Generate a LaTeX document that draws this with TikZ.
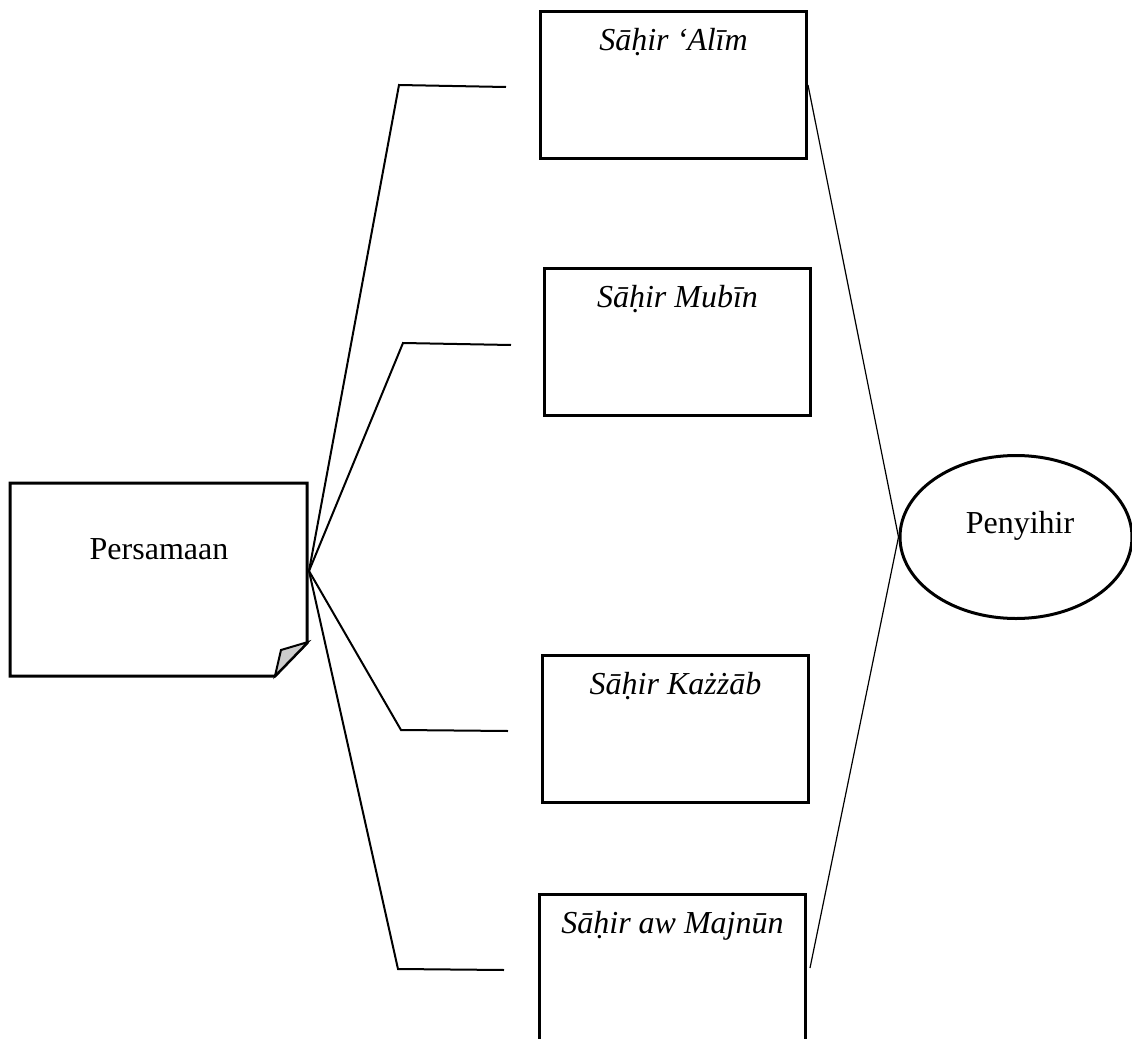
\documentclass[tikz,border=0pt]{standalone}
\usepackage{fontspec}
\setmainfont{Liberation Serif}
\usetikzlibrary{shapes.geometric,calc}
\begin{document}
\begin{tikzpicture}[x=0.5pt,y=-0.5pt,
  box/.style={draw,line width=1.5pt,rectangle,minimum width=133pt,minimum height=73.5pt,anchor=north west,inner sep=0pt},
  lbl/.style={font=\fontsize{16}{19}\selectfont\itshape,anchor=base},
  conn/.style={line width=1pt},
  thin/.style={line width=0.6pt}]
\useasboundingbox (0,0) rectangle (1132,1039);
\clip (0,0) rectangle (1132,1039);
% Persamaan note shape
\draw[line width=1.5pt,line join=miter] (10,483) -- (307,483) -- (307,643) -- (275,676) -- (10,676) -- cycle;
\draw[line width=1pt,fill=black!20] (275,676) -- (281,650) -- (308,642) -- cycle;
\node[font=\fontsize{16}{19}\selectfont,anchor=base] (p) at (159,559) {Persamaan};
\coordinate (o) at (309,571);
% boxes
\node[box] (b1) at (539,10) {};
\node[box] (b2) at (543,267) {};
\node[box] (b3) at (541,654) {};
\node[box] (b4) at (538,893) {};
\node[lbl] (t1) at ($(b1.north)+(0,40)$) {Sāḥir ‘Alīm};
\node[lbl] (t2) at ($(b2.north)+(0,40)$) {Sāḥir Mubīn};
\node[lbl] (t3) at ($(b3.north)+(0,40)$) {Sāḥir Każżāb};
\node[lbl] (t4) at ($(b4.north)+(0,40)$) {Sāḥir aw Majnūn};
% ellipse
\node[draw,ellipse,line width=1.5pt,minimum width=116pt,minimum height=81.5pt,inner sep=0pt] (e) at (1016,537) {};
\node[font=\fontsize{16}{19}\selectfont,anchor=base] (pe) at (1020,533) {Penyihir};
% connector elbows
\coordinate (k1) at (399,85);  \coordinate (m1) at (506,87);
\coordinate (k2) at (403,343); \coordinate (m2) at (511,345);
\coordinate (k3) at (401,730); \coordinate (m3) at (508,731);
\coordinate (k4) at (398,969); \coordinate (m4) at (504,970);
\draw[conn] (o) -- (k1) -- (m1);
\draw[conn] (o) -- (k2) -- (m2);
\draw[conn] (o) -- (k3) -- (m3);
\draw[conn] (o) -- (k4) -- (m4);
% to Penyihir
\draw[thin] (b1.east) -- (e.west);
\draw[thin] ($(b4.east)+(3,0)$) -- (e.west);
\end{tikzpicture}
\end{document}
